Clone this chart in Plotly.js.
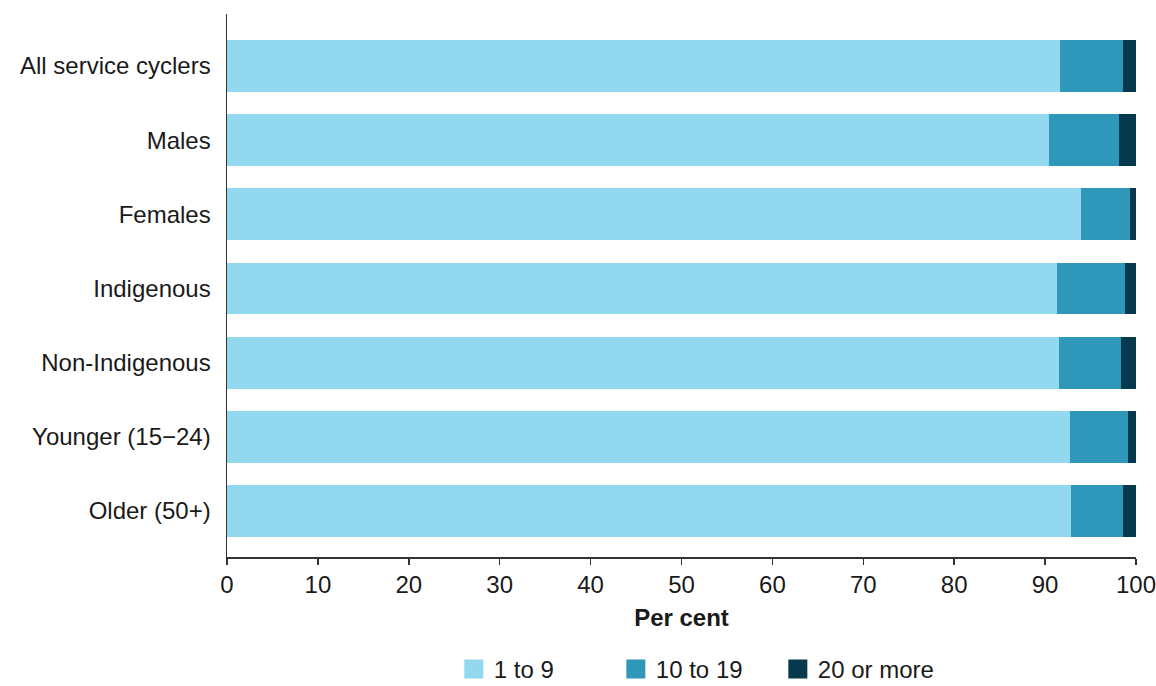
<!DOCTYPE html>
<html>
<head>
<meta charset="utf-8">
<script src="https://cdn.plot.ly/plotly-3.0.1.min.js"></script>
<style>html,body{margin:0;padding:0;background:#fff;}#chart{width:1156px;height:686px;}</style>
</head>
<body>
<div id="chart"></div>
<script>
const categories = ["All service cyclers", "Males", "Females", "Indigenous", "Non-Indigenous", "Younger (15\u221224)", "Older (50+)"];
const seriesNames = ["1 to 9", "10 to 19", "20 or more"];
const oneToNine = [91.6, 90.4, 94.0, 91.3, 91.5, 92.7, 92.8];
const tenToNineteen = [7.0, 7.7, 5.3, 7.5, 6.8, 6.4, 5.8];
const twentyOrMore = [1.4, 1.9, 0.7, 1.2, 1.7, 0.9, 1.4];
const colors = ["#92D8EF", "#2E97BA", "#06394C"];
const xTicks = [0, 10, 20, 30, 40, 50, 60, 70, 80, 90, 100];

const seriesValues = [oneToNine, tenToNineteen, twentyOrMore];
const traces = seriesValues.map((vals, i) => ({
  type: "bar",
  orientation: "h",
  name: seriesNames[i],
  y: categories,
  x: vals,
  marker: {color: colors[i], line: {width: 0}},
  hoverinfo: "x+y+name"
}));

const font = {family: "Liberation Sans, Arial, sans-serif", size: 24, color: "#1a1a1a"};
const layout = {
  width: 1156, height: 686,
  margin: {l: 227, r: 20, t: 14, b: 129, autoexpand: false},
  barmode: "stack",
  bargap: 0.3,
  font: font,
  paper_bgcolor: "#fff",
  plot_bgcolor: "#fff",
  showlegend: true,
  legend: {
    orientation: "h",
    x: 0.6028, xref: "container", xanchor: "center",
    y: -0.207, yref: "paper", yanchor: "middle",
    font: {family: font.family, size: 24, color: "#1a1a1a"},
    itemwidth: 30,
    entrywidth: 117,
    tracegroupgap: 0,
    traceorder: "normal"
  },
  xaxis: {
    range: [0, 100],
    tickvals: xTicks,
    ticks: "outside", ticklen: 6, tickwidth: 1.5, tickcolor: "#333",
    showline: true, linecolor: "#333", linewidth: 1.5,
    showgrid: false, zeroline: false,
    tickfont: {size: 24},
    ticklabeloverflow: "allow",
    title: {text: "<b>Per cent</b>", font: {size: 24}, standoff: 12},
    fixedrange: true
  },
  yaxis: {
    type: "category",
    categoryorder: "array",
    categoryarray: categories,
    range: [6.62, -0.70],
    showline: true, linecolor: "#333", linewidth: 1.5,
    ticks: "", showgrid: false, zeroline: false,
    ticklabelstandoff: 10,
    tickfont: {size: 24},
    fixedrange: true
  }
};

Plotly.newPlot("chart", traces, layout, {displayModeBar: false, staticPlot: true}).then(() => {
  document.querySelectorAll(".legend .legendpoints path").forEach(p => {
    p.setAttribute("d", "M9.5,9.5H-9.5V-9.5H9.5Z");
  });
});
</script>
</body>
</html>
